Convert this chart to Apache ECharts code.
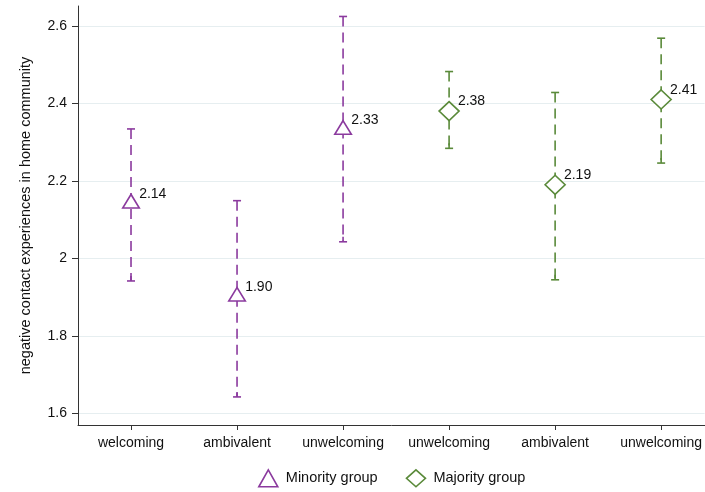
<!DOCTYPE html>
<html>
<head>
<meta charset="utf-8">
<script src="https://cdn.jsdelivr.net/npm/echarts@6/dist/echarts.min.js"></script>
<style>
  html, body { margin: 0; padding: 0; background: #fff; }
  #chart { width: 705px; height: 492px; }
</style>
</head>
<body>
<div id="chart"></div>
<script>
// Context categories along the x axis (first three: minority group, last three: majority group)
const categories = ['welcoming', 'ambivalent', 'unwelcoming', 'unwelcoming', 'ambivalent', 'unwelcoming'];
const positions = [1, 2, 3, 4, 5, 6];

// Minority group: mean and 95% CI (positions 1..3)
const minorityIdx = [1, 2, 3];
const minorityMean = [2.14, 1.90, 2.33];
const minorityLow = [1.942, 1.643, 2.043];
const minorityHigh = [2.334, 2.149, 2.624];

// Majority group: mean and 95% CI (positions 4..6)
const majorityIdx = [4, 5, 6];
const majorityMean = [2.38, 2.19, 2.41];
const majorityLow = [2.284, 1.945, 2.246];
const majorityHigh = [2.482, 2.428, 2.568];

// y-axis tick labels
const yTicks = [1.6, 1.8, 2, 2.2, 2.4, 2.6];

const PURPLE = '#8B3A9E';
const GREEN = '#5A8A3A';
const FONT = 'Liberation Sans, Arial, Helvetica, sans-serif';

function pointData(idx, mean) {
  return idx.map((x, i) => [x, mean[i]]);
}
function ciData(idx, low, high) {
  return idx.map((x, i) => [x, low[i], high[i]]);
}

// Dashed vertical interval with short caps at both ends
function ciRenderer(color) {
  return function (params, api) {
    const x = api.value(0);
    const lo = api.coord([x, api.value(1)]);
    const hi = api.coord([x, api.value(2)]);
    const cap = 4;
    const solid = { stroke: color, lineWidth: 1.6 };
    return {
      type: 'group',
      children: [
        { type: 'line', shape: { x1: hi[0], y1: hi[1], x2: lo[0], y2: lo[1] },
          style: { stroke: color, lineWidth: 1.6, lineDash: [10, 6] } },
        { type: 'line', shape: { x1: hi[0] - cap, y1: hi[1], x2: hi[0] + cap, y2: hi[1] }, style: solid },
        { type: 'line', shape: { x1: lo[0] - cap, y1: lo[1], x2: lo[0] + cap, y2: lo[1] }, style: solid },
        { type: 'line', shape: { x1: lo[0], y1: lo[1], x2: lo[0], y2: lo[1] - 5 }, style: solid }
      ]
    };
  };
}

function valueLabel(offset) {
  return {
    show: true,
    position: 'right',
    distance: 0,
    offset: offset,
    color: '#111',
    fontFamily: FONT,
    fontSize: 14,
    formatter: p => p.value[1].toFixed(2)
  };
}

const chart = echarts.init(document.getElementById('chart'), null, { renderer: 'canvas' });

chart.setOption({
  animation: false,
  backgroundColor: '#fff',
  textStyle: { fontFamily: FONT },
  grid: { left: 78, right: 0, top: 6, bottom: 67, containLabel: false },
  legend: {
    top: 469,
    left: 258,
    padding: 0,
    itemGap: 28,
    itemWidth: 19,
    itemHeight: 17,
    textStyle: { fontFamily: FONT, fontSize: 14.5, color: '#111', padding: [0, 0, 0, 3] },
    data: [
      { name: 'Minority group', icon: 'triangle',
        itemStyle: { color: '#fff', borderColor: PURPLE, borderWidth: 1.6 } },
      { name: 'Majority group', icon: 'diamond',
        itemStyle: { color: '#fff', borderColor: GREEN, borderWidth: 1.6 } }
    ]
  },
  xAxis: {
    type: 'value',
    min: 0.5,
    max: 6.41,
    axisLine: { show: true, lineStyle: { color: '#333', width: 1 } },
    axisTick: { show: true, length: 5, customValues: positions, lineStyle: { color: '#333' } },
    axisLabel: {
      color: '#111', fontSize: 14, fontFamily: FONT, margin: 11,
      customValues: positions,
      formatter: v => categories[Math.round(v) - 1]
    },
    splitLine: { show: false }
  },
  yAxis: {
    type: 'value',
    min: 1.5706,
    max: 2.651,
    name: 'negative contact experiences in home community',
    nameLocation: 'middle',
    nameGap: 45,
    nameTextStyle: { color: '#111', fontSize: 14.5, fontFamily: FONT },
    axisLine: { show: true, lineStyle: { color: '#333', width: 1 } },
    axisTick: { show: true, length: 6, customValues: yTicks, lineStyle: { color: '#333' } },
    axisLabel: { color: '#111', fontSize: 14, fontFamily: FONT, margin: 11, customValues: yTicks },
    splitLine: { show: true, lineStyle: { color: '#E6EEF0', width: 1.2 } }
  },
  series: [
    {
      name: 'Minority group',
      type: 'custom',
      renderItem: ciRenderer(PURPLE),
      data: ciData(minorityIdx, minorityLow, minorityHigh),
      itemStyle: { color: PURPLE },
      z: 2
    },
    {
      name: 'Majority group',
      type: 'custom',
      renderItem: ciRenderer(GREEN),
      data: ciData(majorityIdx, majorityLow, majorityHigh),
      itemStyle: { color: GREEN },
      z: 2
    },
    {
      name: 'Minority group',
      type: 'scatter',
      symbol: 'triangle',
      symbolSize: [16.5, 13.5],
      symbolOffset: [0, -3],
      itemStyle: { color: '#fff', borderColor: PURPLE, borderWidth: 1.6, opacity: 1 },
      label: valueLabel([-1, -7]),
      data: pointData(minorityIdx, minorityMean),
      z: 5
    },
    {
      name: 'Majority group',
      type: 'scatter',
      symbol: 'diamond',
      symbolSize: [20, 19],
      itemStyle: { color: '#fff', borderColor: GREEN, borderWidth: 1.6, opacity: 1 },
      label: valueLabel([-2, -9.5]),
      data: pointData(majorityIdx, majorityMean),
      z: 5
    }
  ]
});
</script>
</body>
</html>
